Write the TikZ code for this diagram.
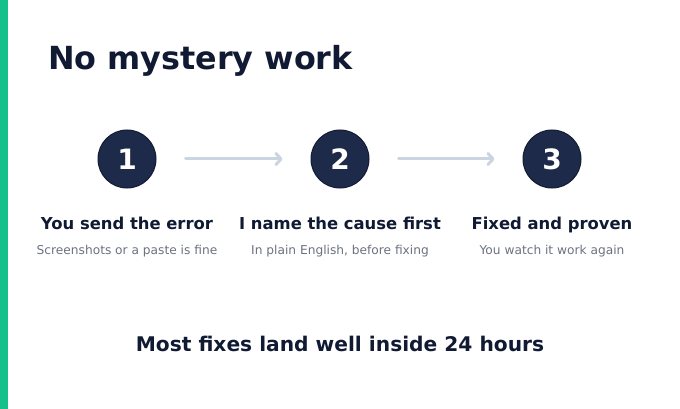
\documentclass[tikz,border=0pt]{standalone}
\usepackage{fontspec}
\setmainfont{DejaVu Sans}
\usetikzlibrary{arrows.meta}
\definecolor{navy}{HTML}{1E2A4A}
\definecolor{navyedge}{HTML}{121B33}
\definecolor{ink}{HTML}{111A33}
\definecolor{muted}{HTML}{6B7280}
\definecolor{arrowc}{HTML}{CBD5E1}
\definecolor{accent}{HTML}{16C08A}
\tikzset{
  stepcircle/.style={circle, fill=navy, draw=navyedge, line width=1pt, minimum size=58pt, inner sep=0pt, text=white, font=\bfseries\fontsize{28}{28}\selectfont},
  steplabel/.style={anchor=base, text=ink, font=\bfseries\fontsize{16.4}{16.4}\selectfont, inner sep=0pt},
  stepsub/.style={anchor=base, text=muted, font=\fontsize{12.2}{12.2}\selectfont, inner sep=0pt},
  flow/.style={draw=arrowc, line width=3pt, line cap=round, -{Straight Barb[length=5pt,width=11pt,round]}, shorten <=29pt, shorten >=28pt},
}
\begin{document}
\begin{tikzpicture}[x=1pt,y=-1pt]
\useasboundingbox (0,0) rectangle (680,409);
\fill[white] (0,0) rectangle (680,409);
\fill[accent] (0,0) rectangle (8,409);
\node[anchor=base west, inner sep=0pt, text=ink, font=\bfseries\fontsize{31.8}{31.8}\selectfont] (title) at (48,70) {No mystery work};
\node[stepcircle] (c1) at (127,159) {1};
\node[stepcircle] (c2) at (340,159) {2};
\node[stepcircle] (c3) at (552,159) {3};
\draw[flow] (c1) -- (c2);
\draw[flow] (c2) -- (c3);
\node[steplabel] (l1) at (127,229) {You send the error};
\node[steplabel] (l2) at (340,229) {I name the cause first};
\node[steplabel] (l3) at (552,229) {Fixed and proven};
\node[stepsub] (s1) at (127,254) {Screenshots or a paste is fine};
\node[stepsub] (s2) at (340,254) {In plain English, before fixing};
\node[stepsub] (s3) at (552,254) {You watch it work again};
\node[anchor=base, inner sep=0pt, text=ink, font=\bfseries\fontsize{20.2}{20.2}\selectfont] (foot) at (340,351) {Most fixes land well inside 24 hours};
\end{tikzpicture}
\end{document}
